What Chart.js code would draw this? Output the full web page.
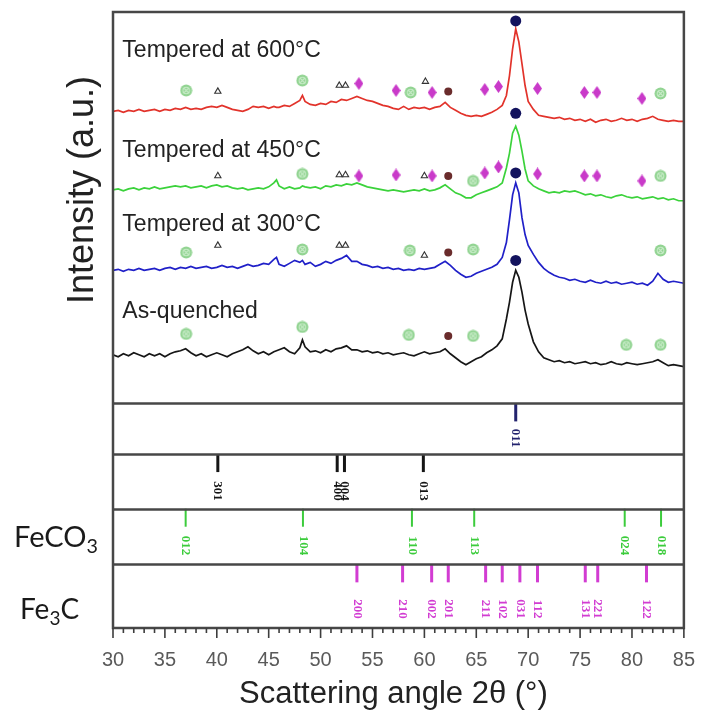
<!DOCTYPE html>
<html>
<head>
<meta charset="utf-8">
<script src="https://cdn.jsdelivr.net/npm/chart.js@4.4.1/dist/chart.umd.min.js"></script>
<style>
  html, body { margin: 0; padding: 0; background: #fff; }
  #wrap { width: 715px; height: 713px; position: relative; }
</style>
</head>
<body>
<div id="wrap"><canvas id="xrd" width="715" height="713"></canvas></div>
<script>
// ---- Diffraction data: scattering angle 2θ (°) and stacked intensities (a.u.) ----
const twoTheta = [
  30, 30.5, 31, 31.5, 32, 32.5, 33, 33.5, 34, 34.5,
  35, 35.5, 36, 36.5, 37, 37.5, 38, 38.5, 39, 39.5,
  40, 40.5, 41, 41.5, 42, 42.5, 43, 43.5, 44, 44.5,
  45, 45.5, 45.75, 46, 46.5, 47, 47.5, 48, 48.25, 48.5,
  49, 49.5, 50, 50.5, 51, 51.5, 52, 52.5, 53, 53.5,
  54, 54.5, 55, 55.5, 56, 56.5, 57, 57.5, 58, 58.5,
  59, 59.5, 60, 60.5, 61, 61.5, 62, 62.5, 63, 63.5,
  64, 64.5, 65, 65.5, 66, 66.5, 67, 67.5, 67.9, 68.2,
  68.5, 68.8, 69.1, 69.4, 69.7, 70, 70.5, 71, 71.5, 72,
  72.5, 73, 73.5, 74, 74.5, 75, 75.5, 76, 76.5, 77,
  77.5, 78, 78.5, 79, 79.5, 80, 80.5, 81, 81.5, 82,
  82.5, 83, 83.5, 84, 84.5, 85
];

const tempered600 = [
  520, 521, 519, 521, 520, 522, 520, 521, 522, 520,
  522, 521, 523, 522, 524, 522, 523, 522, 524, 525,
  524, 526, 524, 522, 521, 520, 522, 525, 524, 525,
  523, 525, 524, 524, 526, 525, 528, 531, 536, 530,
  527, 526, 528, 527, 530, 529, 532, 531, 533, 535,
  533, 531, 530, 528, 526, 525, 523, 522, 525, 522,
  524, 523, 524, 522, 524, 525, 529, 524, 521, 518,
  516, 515, 516, 515, 517, 519, 522, 526, 536, 556,
  583, 603, 590, 568, 546, 530, 522, 516, 515, 514,
  513, 514, 512, 513, 511, 512, 510, 512, 509, 511,
  512, 510, 511, 513, 511, 512, 510, 512, 513, 515,
  512, 511, 510, 511, 510, 510
];

const tempered450 = [
  441, 442, 440, 442, 443, 441, 443, 442, 444, 442,
  443, 444, 445, 444, 445, 443, 444, 445, 443, 445,
  446, 444, 445, 443, 442, 443, 441, 442, 443, 442,
  444, 448, 451, 445, 442, 444, 442, 443, 445, 444,
  443, 444, 442, 445, 444, 446, 445, 447, 446, 448,
  446, 444, 443, 442, 441, 440, 441, 440, 439, 440,
  441, 440, 442, 440, 441, 443, 446, 442, 438, 436,
  433, 433, 436, 438, 440, 442, 444, 448, 463, 478,
  498, 505, 496, 480, 462, 450, 445, 442, 440, 438,
  439, 438, 440, 439, 440, 438, 436, 437, 435, 436,
  434, 433, 435, 436, 434, 433, 434, 432, 433, 434,
  432, 433, 431, 432, 430, 430
];

const tempered300 = [
  360, 361, 359, 361, 360, 362, 360, 361, 362, 360,
  362, 363, 361, 363, 362, 364, 362, 363, 364, 362,
  363, 365, 363, 364, 362, 364, 366, 364, 365, 367,
  366, 371, 373, 366, 364, 367, 370, 368, 370, 366,
  368, 364, 366, 369, 367, 370, 372, 375, 369, 369,
  366, 365, 363, 364, 362, 363, 361, 362, 360, 361,
  360, 362, 361, 362, 363, 366, 369, 365, 360, 356,
  353, 354, 357, 359, 361, 363, 366, 373, 388, 411,
  436, 448, 438, 413, 396, 385, 376, 368, 362, 358,
  355, 353, 352, 350, 351, 349, 348, 350, 348, 347,
  349, 347, 348, 346, 347, 348, 346, 347, 345, 349,
  357, 351, 348, 349, 348, 347
];

const asQuenched = [
  275, 273, 276, 274, 277, 275, 273, 276, 274, 276,
  273, 276, 278, 279, 281, 277, 274, 276, 273, 275,
  277, 275, 273, 276, 278, 280, 283, 279, 276, 278,
  275, 278, 279, 280, 282, 278, 276, 282, 290, 283,
  278, 279, 277, 280, 278, 281, 282, 284, 280, 280,
  278, 279, 277, 278, 276, 277, 275, 276, 277, 275,
  274, 276, 278, 276, 277, 278, 281, 276, 272, 268,
  265, 268, 271, 273, 277, 280, 284, 291, 311, 328,
  348, 360, 353, 338, 320, 306, 288, 278, 272, 270,
  268, 269, 267, 268, 266, 267, 268, 266, 267, 265,
  266, 268, 266, 265, 267, 266, 265, 266, 267, 268,
  270, 267, 264, 265, 264, 263
];

const patternNames = ['As-quenched', 'Tempered at 300°C', 'Tempered at 450°C', 'Tempered at 600°C'];

// ---- Phase identification marks on the patterns: [2θ, intensity] ----
const feco3Marks = [
  [37.05, 541], [48.24, 551], [58.68, 539], [82.75, 538],
  [48.24, 457], [64.69, 450], [82.75, 455],
  [37.05, 378], [48.24, 381], [58.6, 380], [64.69, 381], [82.75, 380],
  [37.05, 296], [48.24, 303], [58.5, 295], [64.69, 294], [79.45, 285], [82.75, 285]
];
const fe3cMarks = [
  [53.69, 548], [57.27, 541], [60.74, 539], [65.82, 542], [67.14, 545], [70.9, 543], [75.41, 539], [76.63, 539], [80.96, 533],
  [53.69, 455], [57.27, 456], [60.74, 455], [65.82, 458], [67.14, 464], [70.9, 457], [75.41, 455], [76.63, 455], [80.96, 450]
];
const deltaMarks = [
  [40.1, 540], [51.8, 546], [52.4, 546], [60.1, 550],
  [40.1, 455], [51.8, 456], [52.4, 456], [60.0, 455],
  [40.1, 385], [51.8, 385], [52.4, 385], [60.0, 375]
];
const unknownMarks = [[62.3, 540], [62.3, 455], [62.3, 378], [62.3, 294]];
const alphaFeMarks = [[68.8, 611], [68.8, 518], [68.8, 458], [68.8, 370]];

// ---- Reference line positions (2θ) and Miller indices ----
const alphaFeAngles = [68.8];
const alphaFeHkl = ['011'];
const deltaAngles = [40.1, 51.6, 52.3, 59.9];
const deltaHkl = ['301', '400', '004', '013'];
const feco3Angles = [37.0, 48.3, 58.8, 64.8, 79.3, 82.8];
const feco3Hkl = ['012', '104', '110', '113', '024', '018'];
const fe3cAngles = [53.5, 57.9, 60.7, 62.3, 65.9, 67.5, 69.2, 70.9, 75.5, 76.7, 81.4];
const fe3cHkl = ['200', '210', '002', '201', '211', '102', '031', '112', '131', '221', '122'];

// ---- Layout of the stacked strips on the shared vertical scale ----
const strips = [
  { top: 226, labelAt: 191, angles: alphaFeAngles, hkl: alphaFeHkl, color: '#23236e', width: 3 },
  { top: 175, labelAt: 138, angles: deltaAngles,   hkl: deltaHkl,   color: '#151515', width: 3 },
  { top: 120, labelAt: 83,  angles: feco3Angles,   hkl: feco3Hkl,   color: '#3ccc3c', width: 2 },
  { top: 64,  labelAt: 19,  angles: fe3cAngles,    hkl: fe3cHkl,    color: '#d23cd2', width: 3 }
];
const stickLen = 18;

const traceColors = ['#161616', '#2020c8', '#3bd23b', '#e2332b'];
const traceData = [asQuenched, tempered300, tempered450, tempered600];
const traceLabelAt = [[30.9, 318], [30.9, 406], [30.9, 480], [30.9, 581]];

function pts(pairs) { return pairs.map(p => ({ x: p[0], y: p[1] })); }

// point images for the phase symbols
function feco3Symbol() {
  const c = document.createElement('canvas');
  c.width = 13; c.height = 13;
  const g = c.getContext('2d');
  g.fillStyle = '#92d492';
  g.beginPath(); g.arc(6.5, 6.5, 6, 0, Math.PI * 2); g.fill();
  g.strokeStyle = '#c6ebc6'; g.lineWidth = 1.1;
  g.beginPath(); g.arc(6.5, 6.5, 3.3, 0, Math.PI * 2); g.stroke();
  g.beginPath(); g.moveTo(4, 4); g.lineTo(9, 9); g.moveTo(9, 4); g.lineTo(4, 9); g.stroke();
  return c;
}
function fe3cSymbol() {
  const c = document.createElement('canvas');
  c.width = 9; c.height = 13;
  const g = c.getContext('2d');
  g.fillStyle = '#c93ac9';
  g.beginPath(); g.moveTo(4.5, 0); g.lineTo(9, 6.5); g.lineTo(4.5, 13); g.lineTo(0, 6.5); g.closePath(); g.fill();
  return c;
}

const datasets = [];
// phase symbols (drawn on top)
datasets.push({ data: pts(alphaFeMarks), pointStyle: 'circle', pointRadius: 5.5, backgroundColor: '#13135e', borderColor: '#13135e', borderWidth: 0, showLine: false, order: 0 });
datasets.push({ data: pts(unknownMarks), pointStyle: 'circle', pointRadius: 4, backgroundColor: '#6a2c2c', borderColor: '#6a2c2c', borderWidth: 0, showLine: false, order: 0 });
datasets.push({ data: pts(fe3cMarks), pointStyle: fe3cSymbol(), pointRadius: 6, showLine: false, order: 0 });
datasets.push({ data: pts(feco3Marks), pointStyle: feco3Symbol(), pointRadius: 6, showLine: false, order: 0 });
datasets.push({ data: pts(deltaMarks), pointStyle: 'triangle', pointRadius: 3.6, backgroundColor: 'rgba(255,255,255,0.9)', borderColor: '#333', borderWidth: 1.1, showLine: false, order: 0 });

// reference sticks
strips.forEach(s => {
  datasets.push({
    data: s.angles.map(a => ({ x: a, y: s.top - stickLen / 2 })),
    pointStyle: 'line', rotation: 90, pointRadius: stickLen / 2,
    borderColor: s.color, borderWidth: s.width, showLine: false, order: 2
  });
});

// diffraction patterns
traceData.forEach((arr, i) => {
  datasets.push({
    label: patternNames[i],
    data: twoTheta.map((t, k) => ({ x: t, y: arr[k] })),
    showLine: true, pointRadius: 0, borderColor: traceColors[i], borderWidth: 1.7,
    tension: 0, order: 5
  });
});

function writeSub(ctx, parts, x, y, size, family) {
  let cx = x;
  parts.forEach(p => {
    const sub = p[1];
    ctx.font = (sub ? size * 0.68 : size) + 'px ' + family;
    ctx.fillText(p[0], cx, sub ? y + size * 0.22 : y);
    cx += ctx.measureText(p[0]).width;
  });
}

const decorations = {
  id: 'decorations',
  afterDatasetsDraw(chart) {
    const ctx = chart.ctx;
    const xs = chart.scales.x, ys = chart.scales.y;
    const area = chart.chartArea;
    ctx.save();

    // strip separators
    ctx.strokeStyle = '#474747';
    ctx.lineWidth = 2.5;
    strips.forEach(s => {
      const y = Math.round(ys.getPixelForValue(s.top)) + 0.5;
      ctx.beginPath(); ctx.moveTo(area.left, y); ctx.lineTo(area.right, y); ctx.stroke();
    });
    // frame
    ctx.strokeRect(area.left, area.top, area.right - area.left, area.bottom - area.top);

    // minor / major ticks on the angle axis
    ctx.lineWidth = 1.6;
    ctx.strokeStyle = '#3d3d3d';
    for (let v = xs.min; v <= xs.max; v += 1) {
      const x = xs.getPixelForValue(v);
      const len = (v % 5 === 0) ? 10 : 5;
      ctx.beginPath(); ctx.moveTo(x, area.bottom); ctx.lineTo(x, area.bottom + len); ctx.stroke();
    }

    // Miller index labels
    strips.forEach(s => {
      ctx.fillStyle = s.color;
      ctx.font = 'bold 13px "Liberation Serif"';
      ctx.textAlign = 'center';
      ctx.textBaseline = 'middle';
      s.angles.forEach((a, i) => {
        ctx.save();
        ctx.translate(xs.getPixelForValue(a), ys.getPixelForValue(s.labelAt));
        ctx.rotate(Math.PI / 2);
        ctx.fillText(s.hkl[i], 0, 0);
        ctx.restore();
      });
    });

    // pattern names
    ctx.fillStyle = '#222';
    ctx.font = '23px "Liberation Sans"';
    ctx.textAlign = 'left';
    ctx.textBaseline = 'middle';
    traceLabelAt.forEach((p, i) => {
      ctx.fillText(patternNames[i], xs.getPixelForValue(p[0]), ys.getPixelForValue(p[1]));
    });

    // axis titles
    ctx.fillStyle = '#222';
    ctx.font = '31px "Liberation Sans"';
    ctx.textAlign = 'center';
    ctx.textBaseline = 'alphabetic';
    ctx.fillText('Scattering angle 2\u03b8 (\u00b0)', (area.left + area.right) / 2 - 5, 703);
    ctx.save();
    ctx.translate(83, 190);
    ctx.rotate(-Math.PI / 2);
    ctx.font = '36px "Liberation Sans"';
    ctx.textBaseline = 'middle';
    ctx.fillText('Intensity (a.u.)', 0, 0);
    ctx.restore();

    // phase names beside the reference strips
    ctx.fillStyle = '#1a1a1a';
    ctx.textAlign = 'left';
    ctx.textBaseline = 'alphabetic';
    writeSub(ctx, [['FeCO', false], ['3', true]], 14, 547, 29, 'Lato');
    writeSub(ctx, [['Fe', false], ['3', true], ['C', false]], 20, 619, 28, 'Lato');

    ctx.restore();
  }
};

new Chart(document.getElementById('xrd'), {
  type: 'scatter',
  data: { datasets },
  options: {
    responsive: false,
    animation: false,
    devicePixelRatio: 1,
    events: [],
    layout: { padding: { left: 113, right: 17, top: 8, bottom: 0 } },
    plugins: { legend: { display: false }, tooltip: { enabled: false } },
    scales: {
      x: {
        type: 'linear', min: 30, max: 85,
        grid: { display: false, drawTicks: false },
        border: { display: false },
        ticks: {
          stepSize: 5, autoSkip: false, maxRotation: 0, padding: 20,
          color: '#5a5a5a', font: { family: 'Liberation Sans', size: 20 }
        },
        afterFit: s => { s.height = 85; }
      },
      y: { display: false, min: 0, max: 620 }
    }
  },
  plugins: [decorations]
});
</script>
</body>
</html>
